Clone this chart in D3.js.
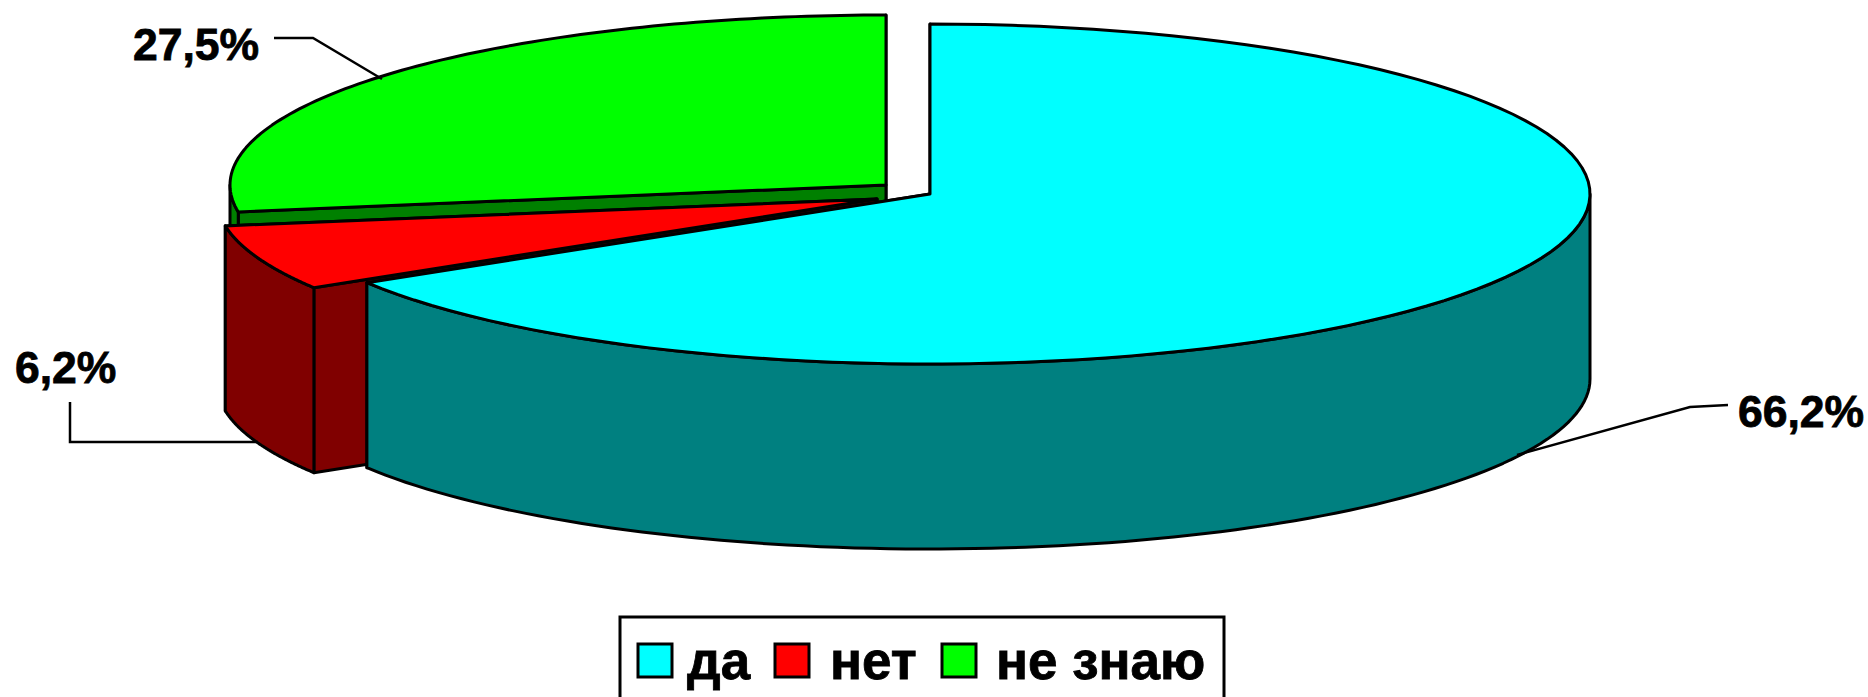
<!DOCTYPE html>
<html>
<head>
<meta charset="utf-8">
<script src="https://cdn.jsdelivr.net/npm/d3@7"></script>
<style>
  html, body { margin: 0; background: #fff; overflow: hidden; }
  text { font-family: "Liberation Sans", Arial, sans-serif; font-weight: bold; fill: #000; stroke: #000; }
</style>
</head>
<body>
<div id="chart"></div>
<script>
// Plot constants
const WIDTH = 1868;
const HEIGHT = 697;

// Data
const categories = ["да", "нет", "не знаю"];
const shares = [66.2, 6.2, 27.5];
const shareLabels = ["66,2%", "6,2%", "27,5%"];
const topColors = ["#00ffff", "#ff0000", "#00ff00"];
const sideColors = ["#008080", "#800000", "#008000"];

// Pie geometry
const RY = 170, DEPTH = 185;
const radii = [660, 660, 656];
const centers = [[930, 194], [877, 199], [886, 185]];
const labelPos = [[1738, 427], [15, 383], [133, 60]];
const leaders = [
  [[1728, 405], [1690, 407], [1517, 455]],
  [[70, 402], [70, 442], [258, 442]],
  [[274, 38], [313, 38], [382, 79]],
];

const svg = d3.select("#chart").append("svg")
  .attr("width", WIDTH)
  .attr("height", HEIGHT)
  .style("display", "block");

const pie = d3.pie().sort(null).value(d => d);
const arcs = pie(shares);
const line = d3.line();

// angle is clockwise from 12 o'clock, as d3.pie gives it
const pt = (i, a, dz = 0) => [
  centers[i][0] + radii[i] * Math.sin(a),
  centers[i][1] - RY * Math.cos(a) + dz,
];

function outline(i, a0, a1, dz) {
  return d3.range(0, 101).map(k => pt(i, a0 + (a1 - a0) * k / 100, dz));
}

function drawPoly(points, fill) {
  svg.append("path")
    .attr("d", line(points) + "Z")
    .attr("fill", fill)
    .attr("stroke", "#000")
    .attr("stroke-width", 3)
    .attr("stroke-linejoin", "round");
}

// back to front: green, red, cyan
[2, 1, 0].forEach(i => {
  const c = centers[i], d = arcs[i];
  const apexLow = [c[0], c[1] + DEPTH];

  // cut faces, the one nearer the viewer last
  [d.endAngle, d.startAngle].forEach(a => {
    drawPoly([c, pt(i, a), pt(i, a, DEPTH), apexLow], sideColors[i]);
  });

  // outer wall, only the part that faces the viewer
  const from = Math.max(d.startAngle, Math.PI / 2);
  const to = Math.min(d.endAngle, Math.PI * 1.5);
  if (to > from) {
    drawPoly(outline(i, from, to, 0).concat(outline(i, to, from, DEPTH)), sideColors[i]);
  }

  // top
  drawPoly([c].concat(outline(i, d.startAngle, d.endAngle, 0)), topColors[i]);
});

// Leader lines and value labels
shareLabels.forEach((t, i) => {
  svg.append("path")
    .attr("d", line(leaders[i]))
    .attr("fill", "none")
    .attr("stroke", "#000")
    .attr("stroke-width", 2.5);
  svg.append("text")
    .attr("x", labelPos[i][0])
    .attr("y", labelPos[i][1])
    .attr("font-size", 44.5)
    .attr("stroke-width", 0.8)
    .text(t);
});

// Legend, its lower edge runs off the picture
const legend = svg.append("g");
legend.append("rect")
  .attr("x", 620).attr("y", 617)
  .attr("width", 604).attr("height", 100)
  .attr("fill", "#fff")
  .attr("stroke", "#000")
  .attr("stroke-width", 3);

const legendSwatchX = [638, 775, 942];
const legendTextX = [687, 830, 996];
categories.forEach((name, i) => {
  legend.append("rect")
    .attr("x", legendSwatchX[i]).attr("y", 644)
    .attr("width", 34).attr("height", 33)
    .attr("fill", topColors[i])
    .attr("stroke", "#000")
    .attr("stroke-width", 3);
  legend.append("text")
    .attr("x", legendTextX[i]).attr("y", 679)
    .attr("font-size", 53)
    .attr("stroke-width", 0.8)
    .text(name);
});
</script>
</body>
</html>
